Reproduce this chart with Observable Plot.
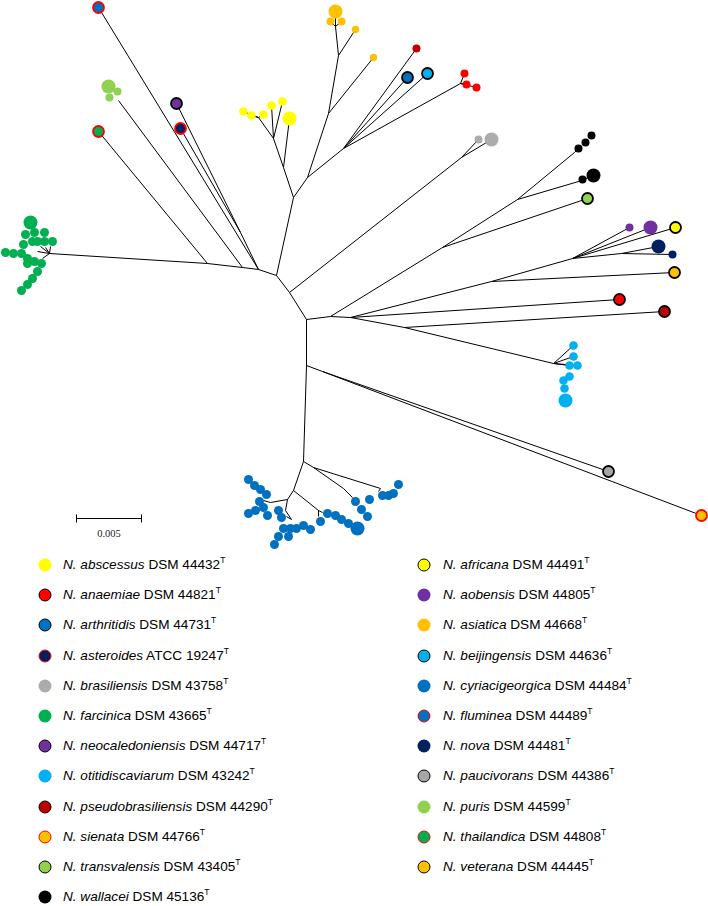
<!DOCTYPE html>
<html>
<head>
<meta charset="utf-8">
<script src="https://cdn.jsdelivr.net/npm/d3@7"></script>
<script src="https://cdn.jsdelivr.net/npm/@observablehq/plot@0.6"></script>
<style>
  body { margin: 0; background: #fff; }
  #chart svg { display: block; }
  #legend { position: relative; width: 708px; height: 356px; font-family: "Liberation Sans", Arial, sans-serif; font-size: 13.6px; color: #000; }
  .dot { position: absolute; width: 13px; height: 13px; border-radius: 50%; box-sizing: border-box; transform: translate(-50%, -50%); }
  .lab { position: absolute; transform: translateY(-50%); white-space: nowrap; line-height: 16px; }
  .lab sup { font-size: 8.5px; vertical-align: 0; position: relative; top: -6px; }
</style>
</head>
<body>
<div id="chart"></div>
<div id="legend"></div>
<script>
// ---------------- DATA ----------------
// Internal nodes of the unrooted tree (layout coordinates)
const nodeIds = ["A","B","C","L1","L2","L3","GF","N1","PU","Y0","Y1","Y2","Y3","T1","T2","T3","AS","BJ","AN","BR","D","W0","W1","WA","WB","E","V0","V1","NV","F","OT","G","H","K","BL","BM","BR2","BS","BN","BP","BQ","BU","BV",
  "g1","g2","g3","g4","g5","c1","c2","c3","c4","c5","c6"];
const nodeXs = [276,289,306,258,242,207,49,240,118,293,283,273,258,307,328,338,335,343,460,461,330,442,517,574,578,350,491,572,621,404,553,306,322,303,293,313,380,343,318,287,270,285,291,
  40,45,50,42,37,318,322,352,263,286,378];
const nodeYs = [275,292,319,269,267,263,253,232,100,197,167,138,117,177,113,55,26,148,83,157,316,247,199,152,181,317,281,258,253,327,363,365,371,461,490,467,488,488,510,499,502,510,519,
  246,247,246,258,251,516,512,497,500,516,491];

// Tips (leaves)
const tipIds = ["flu","tha","pu1","pu2","pu3","neo","ast",
  "ab1","ab2","ab3","ab4","ab5","ab6",
  "as1","as2","as3","as4","as5",
  "psb1","art","bei","an1","an2","an3","br1","br2",
  "wa1","wa2","wa3","wa4","wa5","tra",
  "ao1","ao2","afr","no1","no2","vet","ana","psb",
  "ot1","ot2","ot3","ot4","ot5","ot6","ot7","ot8",
  "pau","sie",
  "fa1","fa2","fa3","fa4","fa5","fa6","fa7","fa8","fa9","fa10","fa11","fa12","fa13","fa14","fa15","fa16","fa17","fa18","fa19","fa20",
  "cy1","cy2","cy3","cy4","cy5","cy6","cy7","cy8","cy9","cy10","cy11","cy12","cy13","cy14","cy15","cy16","cy17","cy18","cy19","cy20","cy21","cy22","cy23","cy24","cy25","cy26","cy27","cy28","cy29","cy30","cy31","cy32","cy33"];
const tipXs = [98,98,108,117,109,176,180,
  243,251,263,271,282,289,
  335,330,341,355,373,
  416,407,427,464,466,476,478,491,
  578,585,591,582,593,587,
  629,650,675,658,672,674,619,664,
  573,573,569,577,569,563,564,565,
  608,701,
  30,25,34,44,23,32,37,44,52,5,13,21,27,27,34,41,37,32,27,21,
  248,254,260,266,259,263,255,248,267,278,281,283,290,296,303,310,278,288,274,320,327,335,341,348,357,355,369,361,367,382,388,393,398];
const tipYs = [7,131,86,91,97,103,128,
  111,115,114,105,101,118,
  11,21,21,29,57,
  48,77,73,73,84,87,139,139,
  148,142,135,179,175,198,
  227,227,227,246,254,272,299,311,
  345,356,365,365,376,380,388,400,
  471,515,
  222,234,232,232,244,241,241,241,241,252,253,253,258,263,261,263,271,278,284,290,
  479,485,489,494,501,507,510,513,515,510,517,528,528,528,525,529,536,536,544,521,513,515,519,523,528,501,499,509,516,495,495,493,484];
const tipSpecies = ["fluminea","thailandica","puris","puris","puris","neocaledoniensis","asteroides",
  "abscessus","abscessus","abscessus","abscessus","abscessus","abscessus",
  "asiatica","asiatica","asiatica","asiatica","asiatica",
  "pseudobrasiliensis","arthritidis","beijingensis","anaemiae","anaemiae","anaemiae","brasiliensis","brasiliensis",
  "wallacei","wallacei","wallacei","wallacei","wallacei","transvalensis",
  "aobensis","aobensis","africana","nova","nova","veterana","anaemiae","pseudobrasiliensis",
  "otitidiscaviarum","otitidiscaviarum","otitidiscaviarum","otitidiscaviarum","otitidiscaviarum","otitidiscaviarum","otitidiscaviarum","otitidiscaviarum",
  "paucivorans","sienata",
  ...Array(20).fill("farcinica"),
  ...Array(33).fill("cyriacigeorgica")];
// type strains carry a ring: "black", "red" or none
const tipRing = ["red","red","none","none","none","black","red",
  "none","none","none","none","none","none",
  "none","none","none","none","none",
  "none","black","black","none","none","none","none","none",
  "none","none","none","none","none","black",
  "none","none","black","none","none","black","black","black",
  "none","none","none","none","none","none","none","none",
  "black","red",
  ...Array(20).fill("none"),
  ...Array(33).fill("none")];
const tipSize = [5.5,5.5,7,4,4,5.5,5.5,
  4.3,4.3,4.3,4.3,4.3,7,
  7,4,4,3.7,3.7,
  4,5.5,5.5,4,4,4,4,7,
  4,4,4,4,7,5.5,
  4,7,5.5,7,4,5.5,5.5,5.5,
  4.3,4.3,4.3,4.3,4.3,4.3,4.3,7,
  5.5,5.5,
  7,...Array(19).fill(4.5),
  ...Array(24).fill(4.5),7,...Array(8).fill(4.5)];

// Branches (parent -> child)
const edgeFrom = ["A","B","C","C","D","D","E","E","E","F","F","V0","V0","V1","V1","V1","V1","NV","NV",
  "A","L1","L2","L3","L1","L1","N1","N1","L2","L3",
  "GF","GF","GF","GF","GF",
  "A","Y0","T1","T2","T3","T3","T2","Y0","Y1","Y1","Y2","Y2","Y2","Y3","Y3","Y3","AS","AS","AS",
  "T1","BJ","BJ","BJ","BJ","AN","AN","AN",
  "B","BR","BR",
  "W0","W0","W1","W1","WA","WB","WB",
  "OT","OT","OT","OT",
  "G","H","H","G",
  "K","K","BM","BM","BL","BL","BP","BP","BU","BN","BN","BS","BR2","BQ","BV"];
const edgeTo = ["B","C","D","G","W0","E","V0","ana","F","psb","OT","vet","V1","ao1","ao2","afr","NV","no1","no2",
  "L1","L2","L3","GF","flu","N1","ast","neo","PU","tha",
  "g1","g2","g3","g4","g5",
  "Y0","T1","T2","T3","AS","as4","as5","Y1","ab6","Y2","ab4","ab5","Y3","ab1","ab2","ab3","as1","as2","as3",
  "BJ","psb1","art","bei","AN","an1","an2","an3",
  "BR","br1","br2",
  "tra","W1","WA","WB","wa1","wa4","wa5",
  "ot1","ot2","ot3","ot4",
  "H","pau","sie","K",
  "BL","BM","BR2","BS","BN","BP","BQ","BU","BV","c1","c2","c3","c6","c4","c5"];

// Scale bar
const scaleValue = 0.005;
const scaleLength = 65; // layout units equal to 0.005 substitutions/site
const scaleOrigin = [76, 518];

// Legend
const legendLeftNames = ["abscessus","anaemiae","arthritidis","asteroides","brasiliensis","farcinica","neocaledoniensis","otitidiscaviarum","pseudobrasiliensis","sienata","transvalensis","wallacei"];
const legendLeftStrains = ["DSM 44432","DSM 44821","DSM 44731","ATCC 19247","DSM 43758","DSM 43665","DSM 44717","DSM 43242","DSM 44290","DSM 44766","DSM 43405","DSM 45136"];
const legendRightNames = ["africana","aobensis","asiatica","beijingensis","cyriacigeorgica","fluminea","nova","paucivorans","puris","thailandica","veterana"];
const legendRightStrains = ["DSM 44491","DSM 44805","DSM 44668","DSM 44636","DSM 44484","DSM 44489","DSM 44481","DSM 44386","DSM 44599","DSM 44808","DSM 44445"];

const speciesNames = ["abscessus","anaemiae","arthritidis","asteroides","brasiliensis","farcinica","neocaledoniensis","otitidiscaviarum","pseudobrasiliensis","sienata","transvalensis","wallacei",
  "africana","aobensis","asiatica","beijingensis","cyriacigeorgica","fluminea","nova","paucivorans","puris","thailandica","veterana"];
const speciesFill = ["#FFFF00","#FF0000","#0070C0","#002060","#AEABAB","#00B050","#7030A0","#00B0F0","#C00000","#FFC000","#92D050","#000000",
  "#FFFF00","#7030A0","#FFC000","#00B0F0","#0070C0","#0070C0","#002060","#A6A6A6","#92D050","#00B050","#FFC000"];
const speciesRing = ["none","black","black","red","none","none","black","none","black","red","black","none",
  "black","none","none","black","none","red","none","black","none","red","black"];

// ---------------- BUILD ----------------
const ringColor = {black: "#000000", red: "#FF0000"};
const fillOf = new Map(speciesNames.map((s, i) => [s, speciesFill[i]]));
const ringOf = new Map(speciesNames.map((s, i) => [s, speciesRing[i]]));

const pos = new Map();
nodeIds.forEach((id, i) => pos.set(id, [nodeXs[i], nodeYs[i]]));
tipIds.forEach((id, i) => pos.set(id, [tipXs[i], tipYs[i]]));

const edges = edgeFrom.map((f, i) => {
  const a = pos.get(f), b = pos.get(edgeTo[i]);
  return {x1: a[0], y1: a[1], x2: b[0], y2: b[1]};
});
const tips = tipIds.map((id, i) => ({
  x: tipXs[i], y: tipYs[i], r: tipSize[i],
  fill: fillOf.get(tipSpecies[i]),
  ring: tipRing[i] === "none" ? null : ringColor[tipRing[i]]
}));

const W = 708, H = 550;
const x0 = scaleOrigin[0], x1 = scaleOrigin[0] + scaleLength, yb = scaleOrigin[1];
const barSegs = [
  {x1: x0, x2: x1, y1: yb, y2: yb},
  {x1: x0, x2: x0, y1: yb - 4, y2: yb + 4},
  {x1: x1, x2: x1, y1: yb - 4, y2: yb + 4}
];

const plot = Plot.plot({
  width: W, height: H, margin: 0,
  x: {domain: [0, W], range: [0, W], axis: null},
  y: {domain: [0, H], range: [0, H], axis: null},
  r: {type: "identity"},
  color: {type: "identity"},
  style: {background: "#fff"},
  marks: [
    Plot.link(edges, {x1: "x1", y1: "y1", x2: "x2", y2: "y2", stroke: "#000", strokeWidth: 1}),
    Plot.dot(tips.filter(d => !d.ring), {x: "x", y: "y", r: "r", fill: "fill"}),
    Plot.dot(tips.filter(d => d.ring), {x: "x", y: "y", r: "r", fill: "fill", stroke: "ring", strokeWidth: 1.8}),
    Plot.link(barSegs, {x1: "x1", x2: "x2", y1: "y1", y2: "y2", stroke: "#000", strokeWidth: 1}),
    Plot.text([{x: (x0 + x1) / 2, y: yb, t: String(scaleValue)}],
      {x: "x", y: "y", text: "t", dy: 15, fontFamily: "Liberation Serif, Times New Roman, serif", fontSize: 10.5, fill: "#222"})
  ]
});
document.getElementById("chart").appendChild(plot);
</script>
<script>
// Legend (HTML)
(function () {
  const legend = document.getElementById("legend");
  const rowY = i => 15 + 30.2 * i;
  function addItem(name, strain, cx, tx, i) {
    const fill = fillOf.get(name), ring = ringOf.get(name);
    const d = document.createElement("span");
    d.className = "dot";
    d.style.left = cx + "px";
    d.style.top = rowY(i) + "px";
    d.style.background = fill;
    if (ring !== "none") d.style.border = "1.8px solid " + ringColor[ring];
    legend.appendChild(d);
    const l = document.createElement("span");
    l.className = "lab";
    l.style.left = tx + "px";
    l.style.top = rowY(i) + "px";
    l.innerHTML = "<i>N. " + name + "</i> " + strain + "<sup>T</sup>";
    legend.appendChild(l);
  }
  legendLeftNames.forEach((n, i) => addItem(n, legendLeftStrains[i], 45, 63, i));
  legendRightNames.forEach((n, i) => addItem(n, legendRightStrains[i], 424, 443, i));
})();
</script>
</body>
</html>
